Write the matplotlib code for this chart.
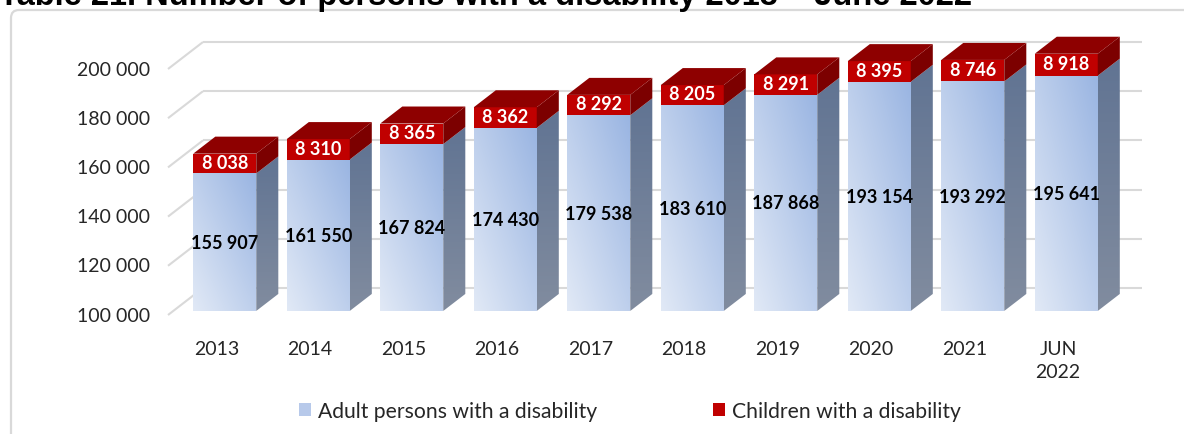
import numpy as np
import matplotlib.pyplot as plt
from matplotlib.patches import Polygon, Patch, FancyBboxPatch
from matplotlib.colors import LinearSegmentedColormap
from matplotlib.transforms import IdentityTransform

plt.rcParams['font.family'] = ['Lato', 'DejaVu Sans']

years = ["2013", "2014", "2015", "2016", "2017", "2018", "2019", "2020", "2021", "JUN\n2022"]
adults = [155907, 161550, 167824, 174430, 179538, 183610, 187868, 193154, 193292, 195641]
children = [8038, 8310, 8365, 8362, 8292, 8205, 8291, 8395, 8746, 8918]
yticks = [100000, 120000, 140000, 160000, 180000, 200000]
legend_labels = ["Adult persons with a disability", "Children with a disability"]
title = "Table 21. Number of persons with a disability 2013 \u2013 June 2022"


def fmt(v):
    return f"{v:,}".replace(",", " ")


W, H = 1184, 435
fig = plt.figure(figsize=(W / 100, H / 100), dpi=100)
ax = fig.add_axes([0, 0, 1, 1])
ax.axis('off')

# front plane scale (pixels per category step / per unit of value)
cat_px = 93.5
val_px = 0.00246
x0_px = 219.5      # pixel x of the first category on the front plane
base = 100000
base_px = 316      # pixel y (from top) of the base value on the front plane
ax.set_xlim((0 - x0_px) / cat_px, (W - x0_px) / cat_px)
ax.set_ylim(base - (H - base_px) / val_px, base + base_px / val_px)

# depth of the 3D box: full depth goes 35 px right and 27 px up
DX = 35 / cat_px
DY = 27 / val_px
d_front, d_back = 0.15, 0.78
bw = 63 / cat_px

# outer chart frame
fig.patches.append(FancyBboxPatch((11, -15), 1200, 439, boxstyle='round,pad=0,rounding_size=8',
                                  transform=IdentityTransform(), fc='none', ec='#d9d9d9', lw=1.6))

fig.text(-0.001, 1 - 5 / H, title, fontsize=23.5, fontweight='bold', family='Liberation Sans',
         va='baseline', ha='left')

# gridlines on side wall and back wall, plus value axis labels
grid_kw = dict(color='#d9d9d9', lw=1.5, zorder=1, solid_capstyle='butt')
x_side = (168 - x0_px) / cat_px
x_right = (1142 - x0_px) / cat_px
for v in yticks:
    ax.plot([x_side, x_side + DX], [v, v + DY], **grid_kw)
    ax.plot([x_side + DX, x_right], [v + DY, v + DY], **grid_kw)
    ax.text((150 - x0_px) / cat_px, v, fmt(v), ha='right', va='center', fontsize=14, color='#262626')

blue_cmap = LinearSegmentedColormap.from_list('front', ['#e1e9f6', '#9ab5e2'])
side_cmap = LinearSegmentedColormap.from_list('side', ['#818c9f', '#617493'])
g = np.linspace(0, 1, 64)
diag = (g[None, :] + g[:, None]) / 2
vert = np.repeat(g[:, None], 2, axis=1)


def shade(patch, data, cmap, extent, z):
    im = ax.imshow(data, cmap=cmap, extent=extent, origin='lower', aspect='auto',
                   interpolation='bilinear', zorder=z)
    im.set_clip_path(patch)


ddx = (d_back - d_front) * DX
ddy = (d_back - d_front) * DY
for i, (a, c) in enumerate(zip(adults, children)):
    xl = i - bw / 2 + d_front * DX
    xr = xl + bw
    yb = base + d_front * DY
    ya = a + d_front * DY
    yt = a + c + d_front * DY
    z = 3

    # adults: front face with diagonal gradient, shaded side face
    front = ax.bar(xl, a - base, bottom=yb, width=bw, align='edge', color='none', lw=0, zorder=z)[0]
    shade(front, diag, blue_cmap, (xl, xr, yb, ya), z)
    side = Polygon([(xr, yb), (xr + ddx, yb + ddy), (xr + ddx, ya + ddy), (xr, ya)],
                   closed=True, fc='none', lw=0, zorder=z)
    ax.add_patch(side)
    shade(side, vert, side_cmap, (xr, xr + ddx, yb, ya + ddy), z)

    # children stacked on top
    ax.bar(xl, c, bottom=ya, width=bw, align='edge', color='#c00000', lw=0, zorder=z + 1)
    ax.add_patch(Polygon([(xr, ya), (xr + ddx, ya + ddy), (xr + ddx, yt + ddy), (xr, yt)],
                         closed=True, fc='#7c0000', lw=0, zorder=z + 1))
    ax.add_patch(Polygon([(xl, yt), (xr, yt), (xr + ddx, yt + ddy), (xl + ddx, yt + ddy)],
                         closed=True, fc='#8e0000', lw=0, zorder=z + 1))

    xc = (xl + xr) / 2
    ax.text(xc, (yb + ya) / 2, fmt(a), ha='center', va='center', fontsize=13,
            fontweight='bold', color='black', zorder=6)
    ax.text(xc, (ya + yt) / 2 + 500, fmt(c), ha='center', va='center', fontsize=13,
            fontweight='bold', color='white', zorder=6)

    ax.text(i - 0.03, base - (341 - base_px) / val_px, years[i], ha='center', va='top',
            fontsize=14, color='#262626', linespacing=1.45)

ax.set_xlim((0 - x0_px) / cat_px, (W - x0_px) / cat_px)
ax.set_ylim(base - (H - base_px) / val_px, base + base_px / val_px)

handles = [Patch(fc='#b7c9ea', ec='none'), Patch(fc='#c00000', ec='none')]
fig.legend(handles, legend_labels, ncol=2, loc='center', bbox_to_anchor=(630 / W, 1 - 412 / H),
           frameon=False, fontsize=15.2, handlelength=0.55, handleheight=0.55, handletextpad=0.35,
           columnspacing=5.5, labelcolor='#262626')

fig.savefig('out.png', dpi=100)
